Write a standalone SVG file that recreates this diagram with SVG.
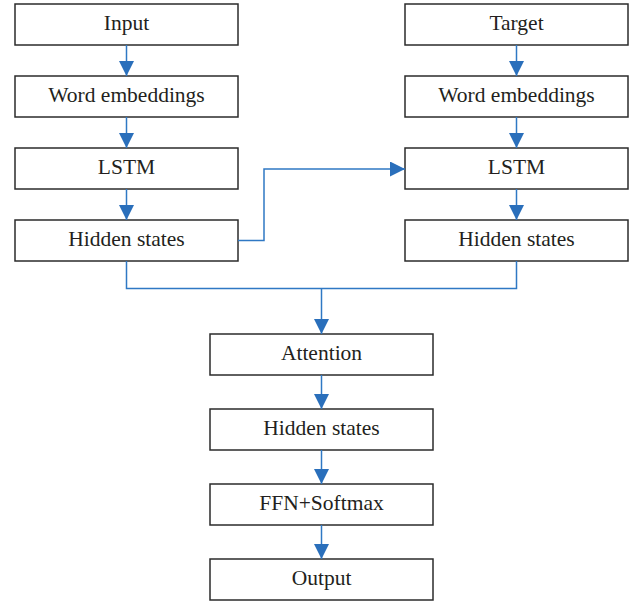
<svg xmlns="http://www.w3.org/2000/svg" width="635" height="605" viewBox="0 0 635 605">
  <style>
    .box { fill: #ffffff; stroke: #2b2b2b; stroke-width: 1.5; }
    .lbl { font-family: "Liberation Serif", "DejaVu Serif", serif; font-size: 21.5px; fill: #231f20; text-anchor: middle; }
    .wire { fill: none; stroke: #2f78c4; stroke-width: 1.5; }
  </style>
  <defs>
    <marker id="arrow" viewBox="0 0 15 15" refX="15" refY="7.5" markerWidth="15" markerHeight="15" markerUnits="userSpaceOnUse" orient="auto">
      <path d="M0,0 L15,7.5 L0,15 Z" fill="#2a6fbb"/>
    </marker>
  </defs>

  <rect width="635" height="605" fill="#ffffff"/>

  <!-- encoder column -->
  <g id="input"><rect class="box" x="15" y="4" width="223" height="41"/><text class="lbl" x="126.5" y="30">Input</text></g>
  <g id="word-emb-src"><rect class="box" x="15" y="76" width="223" height="41"/><text class="lbl" x="126.5" y="102">Word embeddings</text></g>
  <g id="lstm-src"><rect class="box" x="15" y="148" width="223" height="41"/><text class="lbl" x="126.5" y="174">LSTM</text></g>
  <g id="hidden-src"><rect class="box" x="15" y="220" width="223" height="41"/><text class="lbl" x="126.5" y="246">Hidden states</text></g>

  <!-- decoder column -->
  <g id="target"><rect class="box" x="405" y="4" width="223" height="41"/><text class="lbl" x="516.5" y="30">Target</text></g>
  <g id="word-emb-tgt"><rect class="box" x="405" y="76" width="223" height="41"/><text class="lbl" x="516.5" y="102">Word embeddings</text></g>
  <g id="lstm-tgt"><rect class="box" x="405" y="148" width="223" height="41"/><text class="lbl" x="516.5" y="174">LSTM</text></g>
  <g id="hidden-tgt"><rect class="box" x="405" y="220" width="223" height="41"/><text class="lbl" x="516.5" y="246">Hidden states</text></g>

  <!-- output stack -->
  <g id="attention"><rect class="box" x="210" y="334" width="223" height="41"/><text class="lbl" x="321.5" y="360">Attention</text></g>
  <g id="hidden-out"><rect class="box" x="210" y="409" width="223" height="41"/><text class="lbl" x="321.5" y="435">Hidden states</text></g>
  <g id="ffn"><rect class="box" x="210" y="484" width="223" height="41"/><text class="lbl" x="321.5" y="510">FFN+Softmax</text></g>
  <g id="output"><rect class="box" x="210" y="559" width="223" height="41"/><text class="lbl" x="321.5" y="585">Output</text></g>

  <g id="connectors">
    <path class="wire" d="M126.5,45 V76" marker-end="url(#arrow)"/>
    <path class="wire" d="M126.5,117 V148" marker-end="url(#arrow)"/>
    <path class="wire" d="M126.5,189 V220" marker-end="url(#arrow)"/>
    <path class="wire" d="M516.5,45 V76" marker-end="url(#arrow)"/>
    <path class="wire" d="M516.5,117 V148" marker-end="url(#arrow)"/>
    <path class="wire" d="M516.5,189 V220" marker-end="url(#arrow)"/>
    <path class="wire" d="M238,240.5 H264 V169 H405" marker-end="url(#arrow)"/>
    <path class="wire" d="M126.5,261 V288.5 H516.5 V261"/>
    <path class="wire" d="M321.5,288.5 V334" marker-end="url(#arrow)"/>
    <path class="wire" d="M321.5,375 V409" marker-end="url(#arrow)"/>
    <path class="wire" d="M321.5,450 V484" marker-end="url(#arrow)"/>
    <path class="wire" d="M321.5,525 V559" marker-end="url(#arrow)"/>
  </g>
</svg>
